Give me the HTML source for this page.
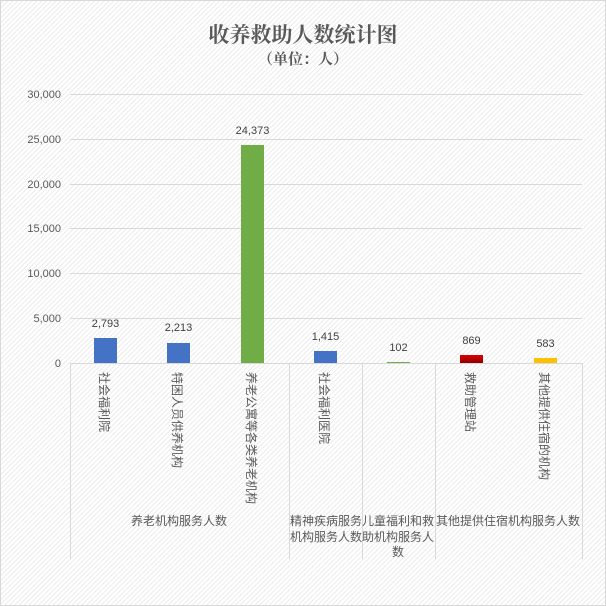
<!DOCTYPE html>
<html><head><meta charset="utf-8"><style>
html,body{margin:0;padding:0;}
body{width:606px;height:606px;overflow:hidden;}
.bg{position:absolute;left:0;top:0;width:604px;height:604px;border:1px solid #d9d9d9;
background:repeating-linear-gradient(-45deg,#ffffff 0px,#ffffff 2px,#e4e4e4 2.6px,#ffffff 3.4px);}
</style></head><body>
<div class="bg"></div>
<svg width="606" height="606" style="position:absolute;left:0;top:0" font-family="'Liberation Sans','Noto Sans CJK SC',sans-serif">
<text x="303" y="42" text-anchor="middle" font-size="21" font-weight="bold" fill="#595959" font-family="'Liberation Serif','Noto Serif CJK SC',serif">收养救助人数统计图</text>
<text x="303" y="64" text-anchor="middle" font-size="15" font-weight="bold" fill="#595959" font-family="'Liberation Serif','Noto Serif CJK SC',serif">（单位：人）</text>
<g stroke="#d9d9d9" stroke-width="1">
<line x1="70" x2="582" y1="94.5" y2="94.5"/>
<line x1="70" x2="582" y1="139.5" y2="139.5"/>
<line x1="70" x2="582" y1="184.5" y2="184.5"/>
<line x1="70" x2="582" y1="228.5" y2="228.5"/>
<line x1="70" x2="582" y1="273.5" y2="273.5"/>
<line x1="70" x2="582" y1="318.5" y2="318.5"/>
<line x1="70" x2="582" y1="363.5" y2="363.5"/>
<line x1="70.5" x2="70.5" y1="363" y2="559"/>
<line x1="289.5" x2="289.5" y1="363" y2="559"/>
<line x1="362.5" x2="362.5" y1="363" y2="559"/>
<line x1="435.5" x2="435.5" y1="363" y2="559"/>
<line x1="582.5" x2="582.5" y1="363" y2="559"/>
</g>
<g font-size="11" fill="#595959" text-anchor="end">
<text x="61" y="98">30,000</text>
<text x="61" y="143">25,000</text>
<text x="61" y="188">20,000</text>
<text x="61" y="232">15,000</text>
<text x="61" y="277">10,000</text>
<text x="61" y="322">5,000</text>
<text x="61" y="367">0</text>
</g>
<rect x="94" y="338" width="23" height="25" fill="#4472C4"/>
<rect x="167" y="343" width="23" height="20" fill="#4472C4"/>
<rect x="241" y="145" width="23" height="218" fill="#70AD47"/>
<rect x="314" y="351" width="23" height="12" fill="#4472C4"/>
<rect x="387" y="362" width="23" height="1" fill="#70AD47"/>
<defs><linearGradient id="r" x1="0" y1="0" x2="0" y2="1"><stop offset="0" stop-color="#e00000"/><stop offset="1" stop-color="#8b0000"/></linearGradient></defs>
<rect x="460" y="355" width="23" height="8" fill="url(#r)"/>
<rect x="534" y="358" width="23" height="5" fill="#FFC000"/>
<g font-size="11" fill="#404040" text-anchor="middle">
<text x="105.5" y="327">2,793</text>
<text x="178.5" y="331">2,213</text>
<text x="252.5" y="134">24,373</text>
<text x="325.5" y="340">1,415</text>
<text x="398.5" y="351">102</text>
<text x="471.5" y="344">869</text>
<text x="545.5" y="347">583</text>
</g>
<g font-size="12" fill="#595959" font-family="'Noto Sans CJK SC',sans-serif">
<text transform="translate(100,372) rotate(90)">社会福利院</text>
<text transform="translate(173,372) rotate(90)">特困人员供养机构</text>
<text transform="translate(247,372) rotate(90)">养老公寓等各类养老机构</text>
<text transform="translate(320,372) rotate(90)">社会福利医院</text>
<text transform="translate(466,372) rotate(90)">救助管理站</text>
<text transform="translate(540,372) rotate(90)">其他提供住宿的机构</text>
</g>
<g font-size="12" fill="#595959" text-anchor="middle" font-family="'Noto Sans CJK SC',sans-serif">
<text x="179" y="525">养老机构服务人数</text>
<text x="326" y="525">精神疾病服务</text>
<text x="326" y="541">机构服务人数</text>
<text x="398" y="525">儿童福利和救</text>
<text x="398" y="541">助机构服务人</text>
<text x="398" y="556">数</text>
<text x="508" y="525">其他提供住宿机构服务人数</text>
</g>
</svg>
</body></html>
